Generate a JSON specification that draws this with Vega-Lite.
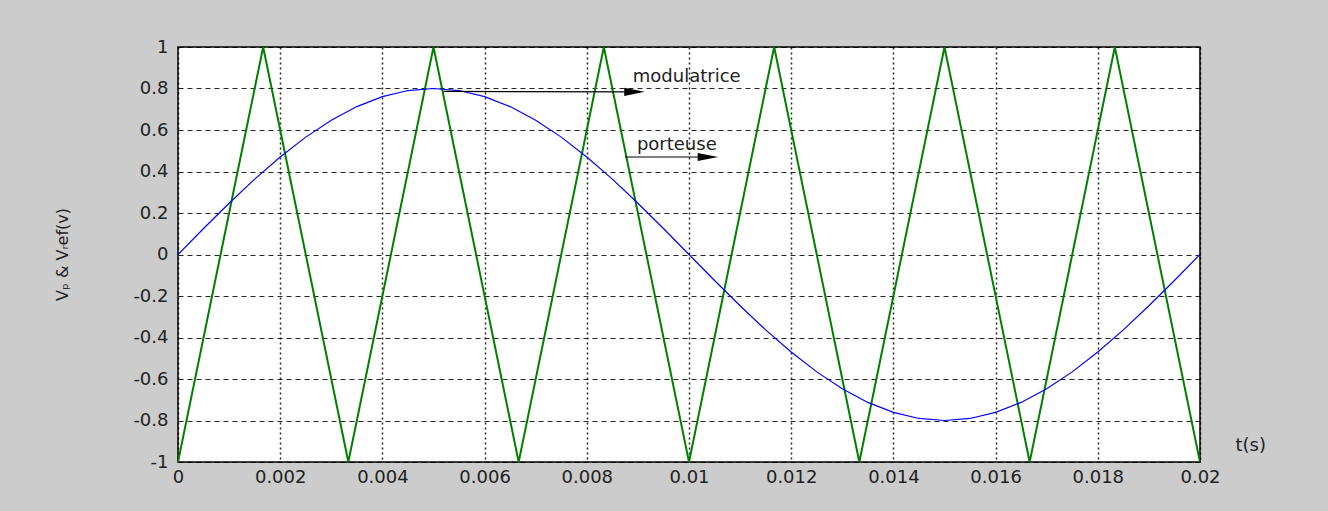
{
  "$schema": "https://vega.github.io/schema/vega-lite/v6.json",
  "width": 1022,
  "height": 415,
  "autosize": "none",
  "padding": {"left": 178, "top": 47, "right": 128, "bottom": 49},
  "background": "#cccccc",
  "config": {
    "view": {"fill": "#ffffff", "stroke": "#000000", "strokeWidth": 1.5},
    "font": "DejaVu Sans"
  },
  "datasets": {
    "carrier": [
      {"t": 0, "v": -1}, {"t": 0.0016667, "v": 1}, {"t": 0.0033333, "v": -1},
      {"t": 0.005, "v": 1}, {"t": 0.0066667, "v": -1}, {"t": 0.0083333, "v": 1},
      {"t": 0.01, "v": -1}, {"t": 0.0116667, "v": 1}, {"t": 0.0133333, "v": -1},
      {"t": 0.015, "v": 1}, {"t": 0.0166667, "v": -1}, {"t": 0.0183333, "v": 1},
      {"t": 0.02, "v": -1}
    ],
    "modulator": [
      {"t": 0, "v": 0}, {"t": 0.0005, "v": 0.1251}, {"t": 0.001, "v": 0.2472},
      {"t": 0.0015, "v": 0.3632}, {"t": 0.002, "v": 0.4702}, {"t": 0.0025, "v": 0.5657},
      {"t": 0.003, "v": 0.6472}, {"t": 0.0035, "v": 0.7128}, {"t": 0.004, "v": 0.7608},
      {"t": 0.0045, "v": 0.7902}, {"t": 0.005, "v": 0.8}, {"t": 0.0055, "v": 0.7902},
      {"t": 0.006, "v": 0.7608}, {"t": 0.0065, "v": 0.7128}, {"t": 0.007, "v": 0.6472},
      {"t": 0.0075, "v": 0.5657}, {"t": 0.008, "v": 0.4702}, {"t": 0.0085, "v": 0.3632},
      {"t": 0.009, "v": 0.2472}, {"t": 0.0095, "v": 0.1251}, {"t": 0.01, "v": 0},
      {"t": 0.0105, "v": -0.1251}, {"t": 0.011, "v": -0.2472}, {"t": 0.0115, "v": -0.3632},
      {"t": 0.012, "v": -0.4702}, {"t": 0.0125, "v": -0.5657}, {"t": 0.013, "v": -0.6472},
      {"t": 0.0135, "v": -0.7128}, {"t": 0.014, "v": -0.7608}, {"t": 0.0145, "v": -0.7902},
      {"t": 0.015, "v": -0.8}, {"t": 0.0155, "v": -0.7902}, {"t": 0.016, "v": -0.7608},
      {"t": 0.0165, "v": -0.7128}, {"t": 0.017, "v": -0.6472}, {"t": 0.0175, "v": -0.5657},
      {"t": 0.018, "v": -0.4702}, {"t": 0.0185, "v": -0.3632}, {"t": 0.019, "v": -0.2472},
      {"t": 0.0195, "v": -0.1251}, {"t": 0.02, "v": 0}
    ],
    "arrows": [
      {"x": 0.0052, "y": 0.786, "x2": 0.0089, "y2": 0.784},
      {"x": 0.00875, "y": 0.47, "x2": 0.0103, "y2": 0.47}
    ],
    "heads": [
      {"x": 0.008933, "y": 0.784},
      {"x": 0.01037, "y": 0.47}
    ],
    "labels": [
      {"x": 0.0089, "y": 0.855, "text": "modulatrice"},
      {"x": 0.00898, "y": 0.528, "text": "porteuse"}
    ]
  },
  "layer": [
    {
      "data": {"name": "carrier"},
      "mark": {"type": "line", "color": "#008000", "strokeWidth": 2, "clip": true},
      "encoding": {
        "x": {
          "field": "t", "type": "quantitative",
          "scale": {"domain": [0, 0.02], "nice": false, "zero": false},
          "axis": {
            "values": [0, 0.002, 0.004, 0.006, 0.008, 0.01, 0.012, 0.014, 0.016, 0.018, 0.02],
            "format": ".3~f",
            "title": "t(s)",
            "titleX": 1057, "titleY": -17, "titleAlign": "left", "titleBaseline": "middle",
            "titleFontSize": 18, "titleFontWeight": "normal", "titleColor": "#222222",
            "labelFontSize": 18, "labelColor": "#222222", "labelPadding": 6,
            "labelFlush": false, "labelOverlap": false,
            "ticks": false, "domain": false,
            "grid": true, "gridColor": "#000000", "gridDash": [2, 3], "gridWidth": 1.5, "gridOpacity": 0.85
          }
        },
        "y": {
          "field": "v", "type": "quantitative",
          "scale": {"domain": [-1, 1], "nice": false, "zero": false},
          "axis": {
            "values": [-1, -0.8, -0.6, -0.4, -0.2, 0, 0.2, 0.4, 0.6, 0.8, 1],
            "labelExpr": "abs(datum.value) < 0.01 ? '0' : replace(format(datum.value, '.1~f'), '−', '-')",
            "title": "Vₚ & Vᵣef(v)",
            "titleX": -116, "titleY": 207, "titleAngle": -90, "titleAlign": "center", "titleBaseline": "middle",
            "titleFontSize": 16, "titleFontWeight": "normal", "titleColor": "#222222",
            "labelFontSize": 18, "labelColor": "#222222", "labelPadding": 10,
            "labelFlush": false, "labelOverlap": false,
            "ticks": false, "domain": false,
            "grid": true, "gridColor": "#000000", "gridDash": [5, 4], "gridWidth": 1, "gridOpacity": 0.85
          }
        }
      }
    },
    {
      "data": {"name": "modulator"},
      "mark": {"type": "line", "color": "#0000ff", "strokeWidth": 1.2, "clip": true},
      "encoding": {
        "x": {"field": "t", "type": "quantitative"},
        "y": {"field": "v", "type": "quantitative"}
      }
    },
    {
      "data": {"name": "arrows"},
      "mark": {"type": "rule", "color": "#000000", "strokeWidth": 1.2},
      "encoding": {
        "x": {"field": "x", "type": "quantitative"},
        "y": {"field": "y", "type": "quantitative"},
        "x2": {"field": "x2"},
        "y2": {"field": "y2"}
      }
    },
    {
      "data": {"name": "heads"},
      "mark": {"type": "point", "shape": "M -1 -0.4 L 1 0 L -1 0.4 Z", "filled": true, "color": "#000000", "opacity": 1, "size": 420},
      "encoding": {
        "x": {"field": "x", "type": "quantitative"},
        "y": {"field": "y", "type": "quantitative"}
      }
    },
    {
      "data": {"name": "labels"},
      "mark": {"type": "text", "align": "left", "baseline": "middle", "fontSize": 18, "color": "#222222", "font": "DejaVu Sans"},
      "encoding": {
        "x": {"field": "x", "type": "quantitative"},
        "y": {"field": "y", "type": "quantitative"},
        "text": {"field": "text"}
      }
    }
  ]
}
